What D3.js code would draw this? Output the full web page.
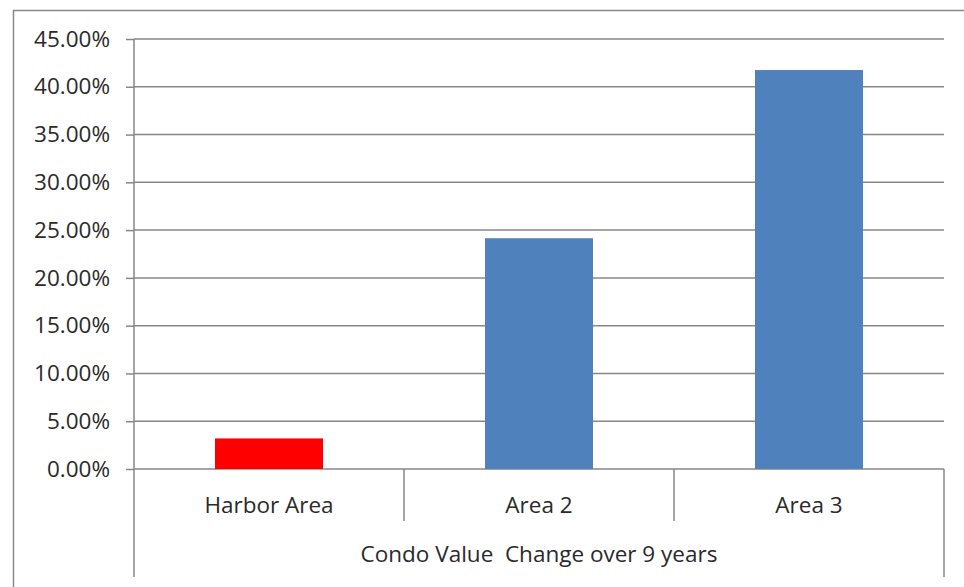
<!DOCTYPE html>
<html><head><meta charset="utf-8">
<script src="https://cdn.jsdelivr.net/npm/d3@7"></script>
<style>body{margin:0;background:#fff}svg{display:block}</style>
</head><body><svg id="c" width="964" height="587"></svg>
<script>
const categories = ["Harbor Area", "Area 2", "Area 3"];
const values = [0.032, 0.2415, 0.4175];
const barColors = ["#ff0000", "#4f81bd", "#4f81bd"];
const yTicks = [0, 0.05, 0.10, 0.15, 0.20, 0.25, 0.30, 0.35, 0.40, 0.45];
const groupLabel = "Condo Value  Change over 9 years";

(function () {
const svg = d3.select("#c");
const font = "'Open Sans', sans-serif";
const fs = 22.5;
const textColor = "#2a2a2a";
const gridColor = "#878787";
const pLeft = 134, pRight = 944, pTop = 39, zeroY = 469;

// outer chart border
svg.append("rect").attr("x", 13.5).attr("y", 10.5).attr("width", 1000).attr("height", 1000)
  .attr("fill", "none").attr("stroke", "#8a8a8a").attr("stroke-width", 1.5);

const x = d3.scaleBand().domain(categories).range([pLeft, pRight]).paddingInner(0.6).paddingOuter(0.3);
const xCat = d3.scaleBand().domain(categories).range([pLeft, pRight]);
const y = d3.scaleLinear().domain([0, 0.45]).range([zeroY, pTop]);

// gridlines
svg.append("g").selectAll("line").data(yTicks).join("line")
  .attr("x1", pLeft).attr("x2", pRight)
  .attr("y1", d => y(d)).attr("y2", d => y(d))
  .attr("stroke", gridColor).attr("stroke-width", 1.5);

// y axis
const yAxis = d3.axisLeft(y).tickValues(yTicks).tickFormat(d3.format(".2%")).tickSize(8).tickPadding(16);
const ga = svg.append("g").attr("transform", `translate(${pLeft},0)`).call(yAxis);
ga.select(".domain").remove();
ga.selectAll(".tick line").attr("stroke", gridColor).attr("stroke-width", 1.5);
ga.selectAll(".tick text").attr("font-family", font).attr("font-size", fs).attr("fill", textColor);
svg.append("line").attr("x1", pLeft).attr("x2", pLeft).attr("y1", pTop).attr("y2", 577)
  .attr("stroke", gridColor).attr("stroke-width", 1.5);

// bars
svg.append("g").selectAll("rect").data(values).join("rect")
  .attr("x", (d, i) => x(categories[i]))
  .attr("width", x.bandwidth())
  .attr("y", d => y(d))
  .attr("height", d => zeroY - y(d))
  .attr("fill", (d, i) => barColors[i]);

// category axis: dividers
svg.append("g").selectAll("line").data(categories.slice(1)).join("line")
  .attr("x1", d => xCat(d)).attr("x2", d => xCat(d))
  .attr("y1", zeroY).attr("y2", 521)
  .attr("stroke", gridColor).attr("stroke-width", 1.5);
svg.append("line").attr("x1", pRight).attr("x2", pRight).attr("y1", zeroY).attr("y2", 577)
  .attr("stroke", gridColor).attr("stroke-width", 1.5);

svg.append("g").selectAll("text").data(categories).join("text")
  .attr("x", d => xCat(d) + xCat.bandwidth() / 2)
  .attr("y", 513)
  .attr("text-anchor", "middle")
  .attr("font-family", font).attr("font-size", fs).attr("fill", textColor)
  .text(d => d);

svg.append("text").attr("x", (pLeft + pRight) / 2).attr("y", 562)
  .attr("text-anchor", "middle").attr("font-family", font).attr("font-size", fs).attr("fill", textColor)
  .attr("xml:space", "preserve").style("white-space", "pre")
  .text(groupLabel);
})();
</script></body></html>
